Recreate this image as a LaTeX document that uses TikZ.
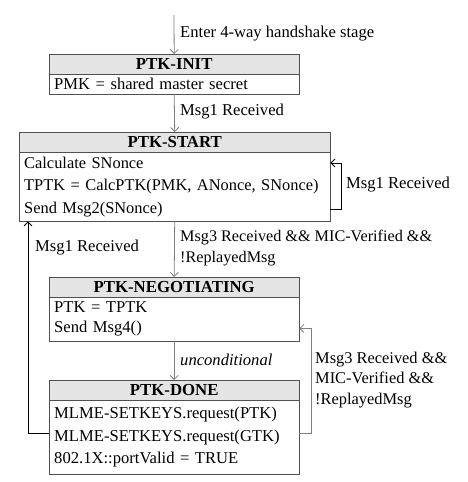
\documentclass[tikz,border=0pt]{standalone}
\usepackage{fontspec}
\setmainfont{Liberation Serif}
\usetikzlibrary{arrows.meta}
\definecolor{boxgray}{HTML}{505050}
\definecolor{hdrfill}{HTML}{E4E4E4}
\definecolor{arrgray}{HTML}{808080}
\begin{document}
\begin{tikzpicture}[x=1pt,y=-1pt,
  every node/.style={font=\fontsize{16.6}{22}\selectfont},
  hdr/.style={draw=boxgray, fill=hdrfill, minimum height=20pt, inner sep=0pt, anchor=north west, font=\fontsize{16.8}{22}\selectfont\bfseries},
  bodybox/.style={draw=boxgray, anchor=north west, inner xsep=5pt, inner ysep=0pt, align=left},
  arr/.style={draw=arrgray, line width=0.8pt, -{Straight Barb[length=4pt,width=8pt]}},
  blkarr/.style={draw=black, line width=0.8pt, -{Straight Barb[length=4pt,width=8pt]}},
  lbl/.style={anchor=west, align=left, inner sep=0pt}
]
\useasboundingbox (0,0) rectangle (468,482);
\fill[white] (0,0) rectangle (468,482);

% PTK-INIT
\node[hdr, minimum width=250pt] (init) at (49,54) {PTK-INIT};
\node[bodybox, text width=240pt, minimum height=20pt] (initb) at (49,74) {PMK = shared master secret};

% PTK-START
\node[hdr, minimum width=311pt] (start) at (19,132) {PTK-START};
\node[bodybox, text width=301pt, minimum height=69pt, font=\fontsize{16.4}{22.5}\selectfont] (startb) at (19,152)
  {Calculate SNonce\\TPTK = CalcPTK(PMK, ANonce, SNonce)\\Send Msg2(SNonce)};

% PTK-NEGOTIATING
\node[hdr, minimum width=250pt] (neg) at (49,277) {PTK-NEGOTIATING};
\node[bodybox, text width=240pt, minimum height=44pt, font=\fontsize{16.6}{20}\selectfont] (negb) at (49,297)
  {PTK = TPTK\\Send Msg4()};

% PTK-DONE
\node[hdr, minimum width=250pt] (done) at (49,380) {PTK-DONE};
\node[bodybox, text width=240pt, minimum height=74pt, font=\fontsize{16.6}{22.5}\selectfont] (doneb) at (49,400)
  {MLME-SETKEYS.request(PTK)\\MLME-SETKEYS.request(GTK)\\802.1X::portValid = TRUE};

% entry
\coordinate (entry) at (174,15);
\draw[arr] (entry) -- (init.north);
\node[lbl] (entrylbl) at (180,34) {Enter 4-way handshake stage};

% INIT -> START
\draw[arr] (initb.south) -- (start.north);
\node[lbl] (l1) at (180,112) {Msg1 Received};

% START self loop
\draw[blkarr] ([yshift=12pt]startb.south east) -- ++(11,0) |- ([yshift=-11pt]startb.north east);
\node[lbl] (l2) at (346,185) {Msg1 Received};

% START -> NEG
\draw[arr] (startb.south) -- (neg.north);
\node[lbl, font=\fontsize{16.2}{21}\selectfont] (l3) at (180,248) {Msg3 Received \&\& MIC-Verified \&\&\\!ReplayedMsg};

% NEG -> DONE
\draw[arr] (negb.south) -- (done.north);
\node[lbl, font=\fontsize{16.6}{22}\selectfont\itshape] (l4) at (180,360) {unconditional};

% DONE -> START (left loop)
\draw[blkarr] ([yshift=4pt]doneb.west) -| ([xshift=9pt]startb.south west);
\node[lbl] (l5) at (35,248) {Msg1 Received};

% DONE -> NEG (right loop)
\draw[arr] ([yshift=4pt]doneb.east) -- ++(12,0) |- ([yshift=13pt]negb.south east);
\node[lbl, font=\fontsize{16.4}{20.5}\selectfont] (l6) at (315,380) {Msg3 Received \&\&\\MIC-Verified \&\&\\!ReplayedMsg};
\end{tikzpicture}
\end{document}
